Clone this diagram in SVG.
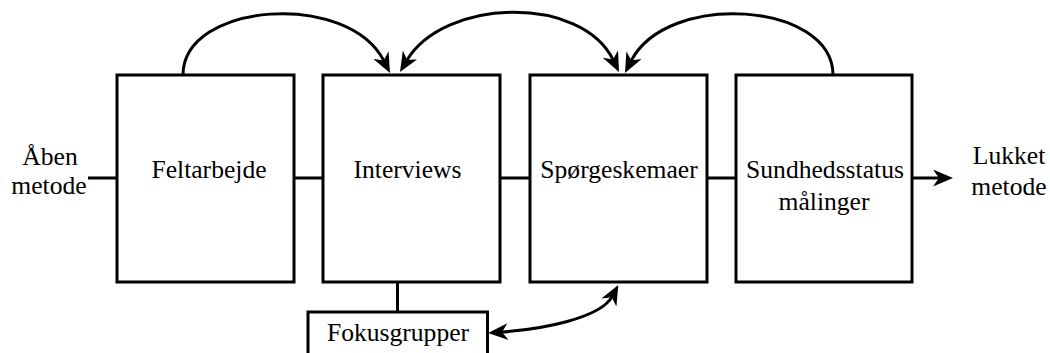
<svg xmlns="http://www.w3.org/2000/svg" width="1050" height="353" viewBox="0 0 1050 353">
<style>
.box{fill:#fff;stroke:#000;stroke-width:3}
.ln{fill:none;stroke:#000;stroke-width:3}
.arc{fill:none;stroke:#000;stroke-width:3}
.t{font-family:'Liberation Serif','DejaVu Serif','Times New Roman',serif;font-size:25.6px;fill:#000;text-anchor:middle}
</style>
<defs>
<marker id="ah" viewBox="0 0 20 17" refX="7" refY="8.5" markerWidth="20" markerHeight="17" markerUnits="userSpaceOnUse" orient="auto-start-reverse">
<path d="M0,0 L20,8.5 L0,17 L6,8.5 Z" fill="#000"/>
</marker>
</defs>
<g id="connectors">
<line class="ln" x1="88" y1="178" x2="117" y2="178"/>
<line class="ln" x1="294" y1="178" x2="323" y2="178"/>
<line class="ln" x1="500" y1="178" x2="530" y2="178"/>
<line class="ln" x1="707" y1="178" x2="736" y2="178"/>
<line class="ln" x1="912" y1="178" x2="940" y2="178" marker-end="url(#ah)"/>
<line class="ln" x1="397.5" y1="282" x2="397.5" y2="312"/>
<path class="arc" d="M183,75 C183,2 348.2,-9.8 384.15,61.4" marker-end="url(#ah)"/>
<path class="arc" d="M406.6,60.8 C443.8,-2.1 581.8,-5.5 613.4,60.3" marker-start="url(#ah)" marker-end="url(#ah)"/>
<path class="arc" d="M833,75 C833,2 666.8,-9.8 630.85,61.4" marker-end="url(#ah)"/>
<path class="arc" d="M501,332.1 C541,329.3 600.5,318.4 612.2,296.4" marker-start="url(#ah)" marker-end="url(#ah)"/>
</g>
<g id="open-label" class="t" font-family="Liberation Serif, serif">
<text class="t" x="50" y="165" font-family="Liberation Serif, serif">Åben</text>
<text class="t" x="49" y="194" font-family="Liberation Serif, serif">metode</text>
</g>
<g id="closed-label">
<text class="t" x="1009" y="164" font-family="Liberation Serif, serif">Lukket</text>
<text class="t" x="1009" y="195" font-family="Liberation Serif, serif">metode</text>
</g>
<g id="feltarbejde">
<rect class="box" x="117" y="75" width="177" height="207"/>
<text class="t" x="209" y="178" font-family="Liberation Serif, serif">Feltarbejde</text>
</g>
<g id="interviews">
<rect class="box" x="323" y="75" width="177" height="207"/>
<text class="t" x="407.5" y="178" font-family="Liberation Serif, serif">Interviews</text>
</g>
<g id="spoergeskemaer">
<rect class="box" x="530" y="75" width="177" height="207"/>
<text class="t" x="619" y="178" font-family="Liberation Serif, serif">Spørgeskemaer</text>
</g>
<g id="sundhedsstatus">
<rect class="box" x="736" y="75" width="176" height="207"/>
<text class="t" x="825" y="178" font-family="Liberation Serif, serif">Sundhedsstatus</text>
<text class="t" x="824" y="210" font-family="Liberation Serif, serif">målinger</text>
</g>
<g id="fokusgrupper">
<rect class="box" x="308" y="312" width="179.5" height="46"/>
<text class="t" x="398" y="341" font-family="Liberation Serif, serif">Fokusgrupper</text>
</g>
</svg>
